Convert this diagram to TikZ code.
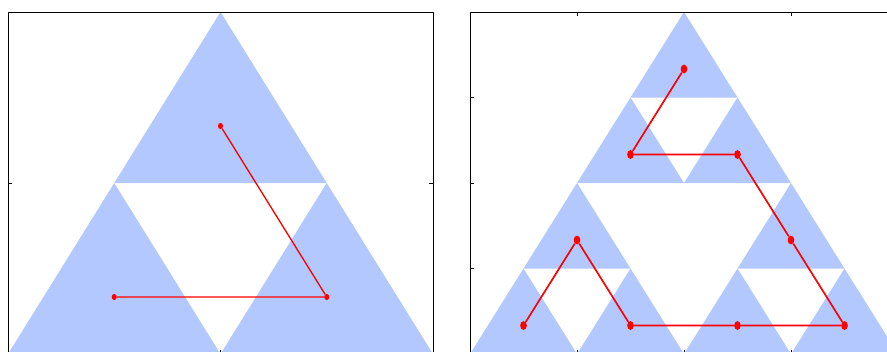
\documentclass[tikz,border=0pt]{standalone}
\usetikzlibrary{shapes.geometric}
\definecolor{fillblue}{RGB}{179,200,255}
\begin{document}
\begin{tikzpicture}[x=0.75pt,y=-0.75pt,
  tri/.style={fill=fillblue,draw=none},
  frame/.style={draw=black,line width=0.75pt},
  tickmark/.style={draw=black,line width=0.75pt},
  redline/.style={draw=red,line width=1pt},
  redlineB/.style={draw=red,line width=1.25pt},
  dotA/.style={ellipse,fill=red,inner sep=0pt,minimum width=3.8pt,minimum height=4.6pt},
  dotB/.style={ellipse,fill=red,inner sep=0pt,minimum width=5pt,minimum height=6.6pt}]
\useasboundingbox (0,0) rectangle (887,351);
\clip (0,0) rectangle (887,351);
% left panel triangles (level 1)
\foreach \x/\y in {220.5/12,114.25/183,326.75/183}
  \fill[tri] (\x,\y) -- ++(-106.25,171) -- ++(212.5,0) -- cycle;
% right panel triangles (level 2)
\foreach \x/\y in {684/12,630.5/97.5,737.5/97.5,577/183,523.5/268.5,630.5/268.5,791/183,737.5/268.5,844.5/268.5}
  \fill[tri] (\x,\y) -- ++(-53.5,85.5) -- ++(107,0) -- cycle;
% frames
\draw[frame] (8,12) rectangle (433,354);
\draw[frame] (470,12) rectangle (898,354);
% ticks left panel
\draw[tickmark] (8,183) -- (12,183);
\draw[tickmark] (433,183) -- (429,183);
\draw[tickmark] (220.5,354) -- (220.5,350);
% ticks right panel
\foreach \yy in {97.5,183,268.5} {
  \draw[tickmark] (470,\yy) -- (474,\yy);
  \draw[tickmark] (898,\yy) -- (894,\yy);
}
\foreach \xx in {577,684,791}
  \draw[tickmark] (\xx,354) -- (\xx,350);
\foreach \xx in {577,791}
  \draw[tickmark] (\xx,12) -- (\xx,16);
% left panel path
\node[dotA] (A1) at (220.5,126) {};
\node[dotA] (A2) at (326.75,297) {};
\node[dotA] (A3) at (114.25,297) {};
\draw[redline] (A1) -- (A2) -- (A3);
% right panel path
\node[dotB] (B1) at (684,69) {};
\node[dotB] (B2) at (630.5,154.5) {};
\node[dotB] (B3) at (737.5,154.5) {};
\node[dotB] (B4) at (791,240) {};
\node[dotB] (B5) at (844.5,325.5) {};
\node[dotB] (B6) at (737.5,325.5) {};
\node[dotB] (B7) at (630.5,325.5) {};
\node[dotB] (B8) at (577,240) {};
\node[dotB] (B9) at (523.5,325.5) {};
\draw[redlineB] (B1) -- (B2) -- (B3) -- (B4) -- (B5) -- (B6) -- (B7) -- (B8) -- (B9);
\end{tikzpicture}
\end{document}
